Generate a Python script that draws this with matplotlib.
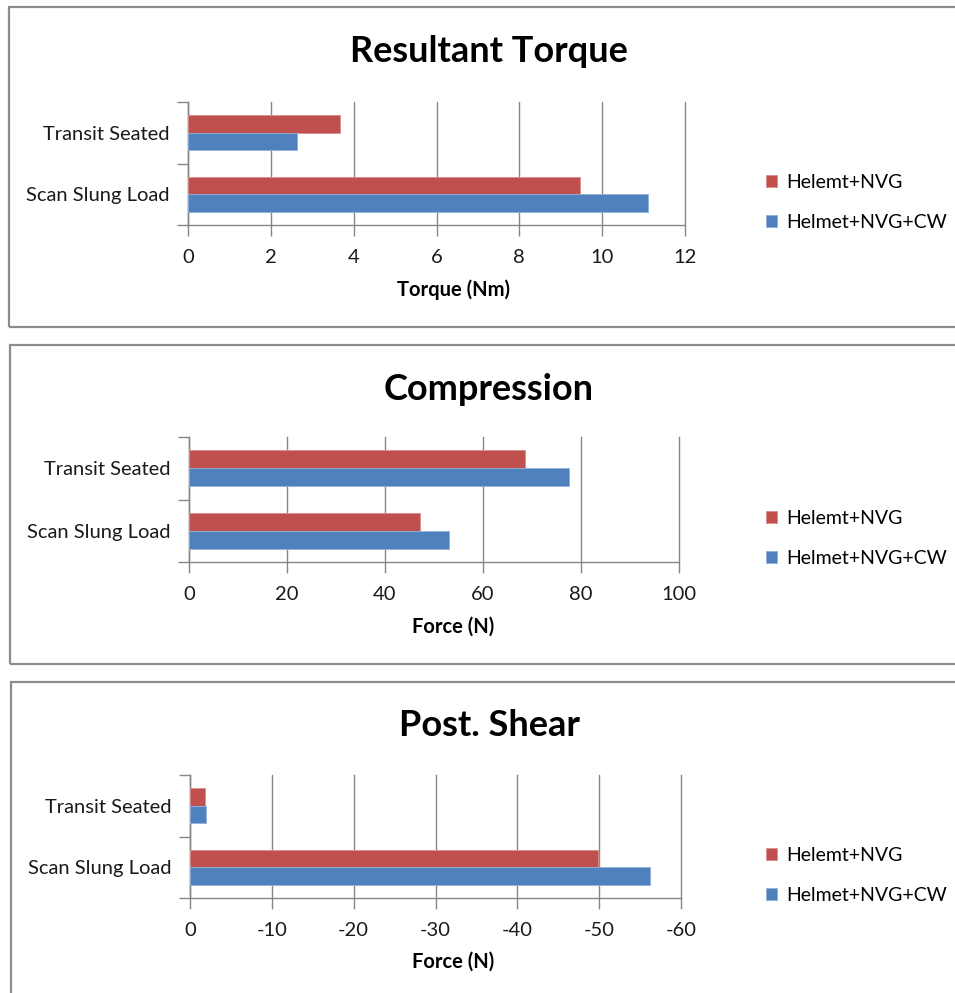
import matplotlib
matplotlib.use("Agg")
import matplotlib.pyplot as plt
from matplotlib.patches import Rectangle

plt.rcParams['font.family'] = ['Lato', 'DejaVu Sans']

categories = ["Scan Slung Load", "Transit Seated"]
series_names = ["Helemt+NVG", "Helmet+NVG+CW"]

torque_nvg = [9.47, 3.67]
torque_cw = [11.1, 2.64]

compression_nvg = [47.1, 68.6]
compression_cw = [53.1, 77.5]

shear_nvg = [-49.8, -1.8]
shear_cw = [-56.2, -2.0]

titles = ["Resultant Torque", "Compression", "Post. Shear"]
xlabels = ["Torque (Nm)", "Force (N)", "Force (N)"]
xticks_list = [[0, 2, 4, 6, 8, 10, 12],
               [0, 20, 40, 60, 80, 100],
               [0, -10, -20, -30, -40, -50, -60]]
xlims = [(0, 12), (0, 100), (0, -60)]

RED = "#C0504D"
BLUE = "#4F81BD"
GRID = "#868686"

W, H = 955, 993
fig = plt.figure(figsize=(W / 100, H / 100), dpi=100)


def fx(px):
    return px / W


def fy(py):
    return 1 - py / H


panels = [
    dict(top=7, bottom=327, left=9, ax_l=188, ax_r=685, ax_t=102, ax_b=225),
    dict(top=345, bottom=664, left=10, ax_l=189, ax_r=679, ax_t=437, ax_b=562),
    dict(top=682, bottom=1005, left=11, ax_l=190, ax_r=681, ax_t=775, ax_b=898),
]

data = [(torque_nvg, torque_cw), (compression_nvg, compression_cw), (shear_nvg, shear_cw)]

for i, p in enumerate(panels):
    rect = Rectangle((fx(p['left']), fy(p['bottom'])), fx(W + 20 - p['left']),
                     (p['bottom'] - p['top']) / H, transform=fig.transFigure,
                     fill=False, edgecolor="#8c8c8c", linewidth=1.6, zorder=0)
    fig.patches.append(rect)

    ax = fig.add_axes([fx(p['ax_l']), fy(p['ax_b']), (p['ax_r'] - p['ax_l']) / W,
                       (p['ax_b'] - p['ax_t']) / H])
    nvg, cw = data[i]
    ypos = list(range(len(categories)))
    h = 0.285
    ax.barh([y + h / 2 for y in ypos], nvg, height=h, color=RED, edgecolor="#d98f8d",
            linewidth=0.6, label=series_names[0], zorder=3)
    ax.barh([y - h / 2 for y in ypos], cw, height=h, color=BLUE, edgecolor="#8fb0d9",
            linewidth=0.6, label=series_names[1], zorder=3)

    ax.set_ylim(-0.5, 1.5)
    ax.set_xlim(*xlims[i])
    ax.set_xticks(xticks_list[i])
    ax.set_xticklabels([str(t) for t in xticks_list[i]], fontsize=14.5, color="#1a1a1a")
    ax.set_yticks([-0.5, 0.5, 1.5])
    ax.set_yticklabels([])
    ax.set_yticks(ypos, minor=True)
    ax.set_yticklabels(categories, minor=True, fontsize=14.5, color="#1a1a1a")
    ax.tick_params(axis='y', which='minor', length=0, pad=13)
    ax.tick_params(axis='y', which='major', length=8, color=GRID, width=1)
    ax.tick_params(axis='x', length=8, color=GRID, width=1, pad=9)

    ax.grid(axis='x', color=GRID, linewidth=1, zorder=0)
    for gl in ax.get_xgridlines():
        gl.set_clip_on(False)
    for s in ['top', 'right']:
        ax.spines[s].set_visible(False)
    for s in ['left', 'bottom']:
        ax.spines[s].set_color(GRID)
        ax.spines[s].set_linewidth(1)

    ax.set_xlabel(xlabels[i], fontsize=14.5, fontweight='bold', color="#000000")
    ax.xaxis.set_label_coords((453 - p['ax_l']) / (p['ax_r'] - p['ax_l']), -0.44)

    fig.text(fx(489), fy(p['top'] + 44), titles[i], fontsize=26, fontweight='bold',
             ha='center', va='center')

    ax.legend(loc='center left',
              bbox_to_anchor=(fx(766), fy((p['ax_t'] + p['ax_b']) / 2 + 39)),
              bbox_transform=fig.transFigure, frameon=False, fontsize=14,
              handlelength=0.57, handleheight=0.57, handletextpad=0.47,
              labelspacing=1.15, borderpad=0, borderaxespad=0)

fig.savefig("out.png", dpi=100, facecolor="white")
